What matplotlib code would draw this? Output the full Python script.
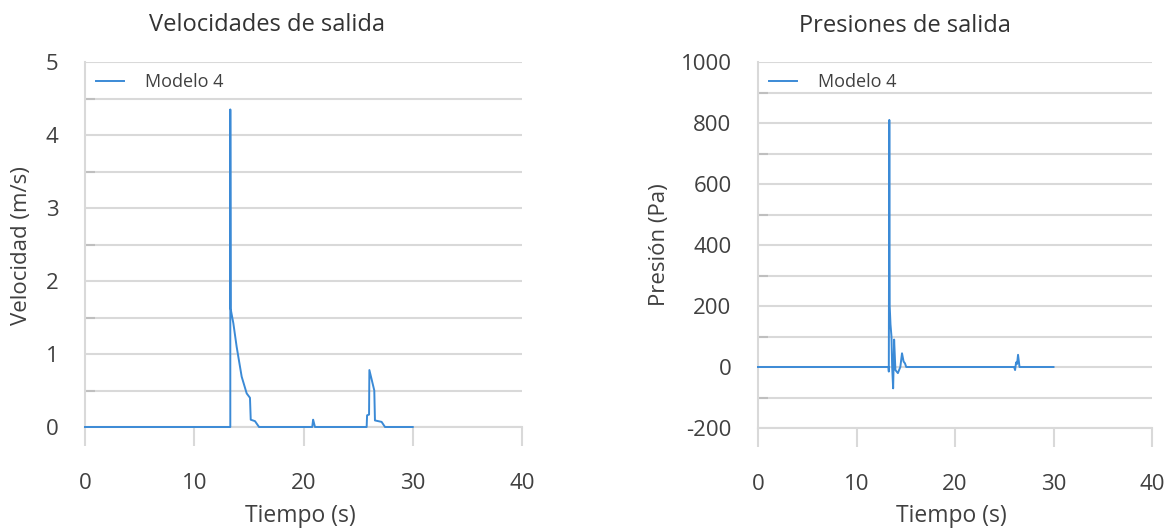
import matplotlib
matplotlib.use("Agg")
import matplotlib.pyplot as plt
from matplotlib.ticker import MultipleLocator

plt.rcParams['font.family'] = ['Open Sans', 'DejaVu Sans']
plt.rcParams['axes.unicode_minus'] = False

# ---- Data ----
vel_t = [0, 13.30, 13.30, 13.33, 13.58, 13.88, 14.34, 14.80, 15.10, 15.17, 15.56, 15.93,
         20.80, 20.88, 20.95, 21.05, 25.78, 25.82, 26.00, 26.03, 26.24, 26.48, 26.54,
         27.15, 27.46, 30.0]
vel_v = [0, 0, 4.35, 1.62, 1.42, 1.10, 0.69, 0.46, 0.40, 0.10, 0.08, 0.0,
         0.0, 0.10, 0.06, 0.0, 0.0, 0.16, 0.17, 0.78, 0.65, 0.50, 0.09,
         0.07, 0.0, 0.0]

pres_t = [0, 13.25, 13.28, 13.33, 13.37, 13.45, 13.55, 13.62, 13.72, 13.82, 13.95,
          14.20, 14.45, 14.62, 14.78, 14.92, 15.05, 26.00, 26.10, 26.20, 26.30,
          26.40, 26.55, 30.0]
pres_v = [0, 0, -15, 810, 200, 140, 100, 0, -70, 90, -10,
          -20, 0, 45, 18, 12, 0, 0, -10, 15, 10,
          40, 0, 0]

x_ticks = [0, 10, 20, 30, 40]
vel_ticks = [0, 1, 2, 3, 4, 5]
pres_ticks = [-200, 0, 200, 400, 600, 800, 1000]

LINE = '#3b8ad6'
GRID = '#d9d9d9'
TXT = '#404040'

fig = plt.figure(figsize=(11.68, 5.31), dpi=100)
W, H = 1168, 531

def make_ax(x0, x1, ytop, ybot):
    return fig.add_axes([x0 / W, (H - ybot) / H, (x1 - x0) / W, (ybot - ytop) / H])

ax1 = make_ax(85, 522, 62, 427)
ax2 = make_ax(758, 1152, 62, 428)

def style(ax, ylim, yticks, minor):
    ax.set_xlim(0, 40)
    ax.set_ylim(*ylim)
    ax.set_xticks(x_ticks)
    ax.set_yticks(yticks)
    ax.yaxis.set_minor_locator(MultipleLocator(minor))
    ax.grid(True, which='both', axis='y', color=GRID, linewidth=1.5)
    ax.set_axisbelow(True)
    for s in ['top', 'right']:
        ax.spines[s].set_visible(False)
    ax.spines['left'].set_color(GRID)
    ax.spines['left'].set_linewidth(1.5)
    ax.spines['bottom'].set_color(GRID)
    ax.spines['bottom'].set_linewidth(1.5)
    ax.tick_params(axis='x', direction='out', length=14, width=1.5, color=GRID,
                   labelsize=16, labelcolor=TXT, pad=19)
    ax.tick_params(axis='y', which='major', length=0, labelsize=16,
                   labelcolor=TXT, pad=19)
    ax.tick_params(axis='y', which='minor', direction='in', length=7, width=1.5,
                   color='#bfbfbf')

style(ax1, (0, 5), vel_ticks, 0.5)
style(ax2, (-200, 1000), pres_ticks, 100)

ax1.plot(vel_t, vel_v, color=LINE, linewidth=1.4, clip_on=False, zorder=3,
         label='Modelo 4')
ax2.plot(pres_t, pres_v, color=LINE, linewidth=1.4, clip_on=False, zorder=3,
         label='Modelo 4')

for ax in (ax1, ax2):
    ax.legend(loc='upper left', frameon=False, fontsize=13, handlelength=1.55,
              handletextpad=1.2, borderaxespad=0.2, labelcolor=TXT,
              bbox_to_anchor=(0.0, 1.0))

fig.text(267 / W, 1 - 25 / H, 'Velocidades de salida', ha='center', va='center',
         fontsize=17, color='#333333')
fig.text(905 / W, 1 - 26 / H, 'Presiones de salida', ha='center', va='center',
         fontsize=17, color='#333333')

fig.text(300 / W, 1 - 516 / H, 'Tiempo (s)', ha='center', va='center',
         fontsize=16.5, color=TXT)
fig.text(951 / W, 1 - 516 / H, 'Tiempo (s)', ha='center', va='center',
         fontsize=16.5, color=TXT)
fig.text(22 / W, 1 - 246 / H, 'Velocidad (m/s)', ha='center', va='center',
         rotation=90, fontsize=16, color=TXT)
fig.text(660 / W, 1 - 245 / H, 'Presión (Pa)', ha='center', va='center',
         rotation=90, fontsize=16, color=TXT)

fig.savefig('out.png', dpi=100, facecolor='white')
